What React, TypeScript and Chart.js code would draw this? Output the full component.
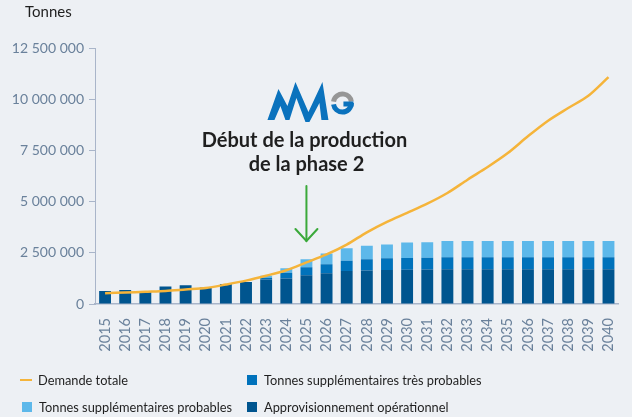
import React, { useEffect, useRef } from "react";
import { Chart, registerables } from "chart.js";

Chart.register(...registerables);

const categories = [
  "2015", "2016", "2017", "2018", "2019", "2020", "2021", "2022", "2023",
  "2024", "2025", "2026", "2027", "2028", "2029", "2030", "2031", "2032",
  "2033", "2034", "2035", "2036", "2037", "2038", "2039", "2040",
];

const approvisionnementOperationnel = [
  640000, 680000, 600000, 850000, 910000, 800000, 980000, 1070000, 1200000,
  1250000, 1400000, 1500000, 1610000, 1640000, 1660000, 1670000, 1690000,
  1700000, 1700000, 1700000, 1700000, 1700000, 1700000, 1700000, 1700000, 1700000,
];

const tonnesTresProbables = [
  0, 0, 0, 0, 0, 0, 0, 0, 80000, 280000, 390000, 440000, 500000, 550000,
  570000, 570000, 570000, 580000, 580000, 580000, 580000, 580000, 580000,
  580000, 580000, 580000,
];

const tonnesProbables = [
  0, 0, 0, 0, 0, 0, 0, 0, 100000, 210000, 390000, 530000, 610000, 660000,
  680000, 760000, 760000, 800000, 800000, 800000, 800000, 800000, 800000,
  800000, 800000, 800000,
];

const demandeTotale = [
  530000, 560000, 600000, 640000, 710000, 780000, 950000, 1140000, 1380000,
  1650000, 2030000, 2420000, 2900000, 3500000, 4010000, 4450000, 4900000,
  5420000, 6070000, 6690000, 7370000, 8190000, 8950000, 9570000, 10170000,
  11080000,
];

const yTicks = [0, 2500000, 5000000, 7500000, 10000000, 12500000];
const annotationCategory = "2025";
const annotationLines = ["Début de la production", "de la phase 2"];

const COLORS = {
  bg: "#edf0f4",
  dark: "#00558f",
  mid: "#0072bb",
  light: "#5db8ea",
  line: "#f5b43a",
  axis: "#a9b5c9",
  tick: "#6a819b",
  text: "#1f1f1f",
  green: "#3aa93a",
  logoBlue: "#0a72bd",
  logoGray: "#969696",
};

const fmt = (v: number) =>
  String(Math.round(v)).replace(/\B(?=(\d{3})+(?!\d))/g, " ");

const annotationPlugin = {
  id: "annotation",
  afterDatasetsDraw(chart: any) {
    const ctx = chart.ctx;
    const idx = categories.indexOf(annotationCategory);
    const cx = chart.scales.x.getPixelForValue(idx);
    ctx.save();
    // Logo
    const lx = cx;
    ctx.fillStyle = COLORS.logoBlue;
    ctx.beginPath();
    ctx.moveTo(lx - 39, 120);
    ctx.lineTo(lx - 28, 89);
    ctx.lineTo(lx - 19, 106);
    ctx.lineTo(lx - 11, 82);
    ctx.lineTo(lx + 2, 112);
    ctx.lineTo(lx + 16, 82);
    ctx.lineTo(lx + 22, 120);
    ctx.lineTo(lx + 15, 120);
    ctx.lineTo(lx + 13, 103);
    ctx.lineTo(lx + 3, 122);
    ctx.lineTo(lx - 1, 122);
    ctx.lineTo(lx - 10, 98);
    ctx.lineTo(lx - 17, 120);
    ctx.lineTo(lx - 21, 120);
    ctx.lineTo(lx - 26, 106);
    ctx.lineTo(lx - 32, 120);
    ctx.closePath();
    ctx.fill();
    // G
    const gx = lx + 36;
    const gy = 103;
    ctx.lineWidth = 5;
    ctx.strokeStyle = COLORS.logoGray;
    ctx.beginPath();
    ctx.arc(gx, gy, 9, Math.PI * 1.05, Math.PI * 1.95);
    ctx.stroke();
    ctx.strokeStyle = COLORS.logoBlue;
    ctx.beginPath();
    ctx.arc(gx, gy, 9, Math.PI * 0.0, Math.PI * 0.95);
    ctx.stroke();
    ctx.beginPath();
    ctx.moveTo(gx + 1, gy + 1);
    ctx.lineTo(gx + 11, gy + 1);
    ctx.stroke();

    // Text
    ctx.fillStyle = COLORS.text;
    ctx.font = "bold 20px Lato";
    ctx.textAlign = "center";
    ctx.textBaseline = "middle";
    ctx.fillText(annotationLines[0], cx - 2, 141);
    ctx.fillText(annotationLines[1], cx, 165);

    // Arrow
    ctx.strokeStyle = COLORS.green;
    ctx.lineWidth = 2;
    ctx.lineCap = "round";
    ctx.beginPath();
    ctx.moveTo(cx, 186);
    ctx.lineTo(cx, 241);
    ctx.stroke();
    ctx.beginPath();
    ctx.moveTo(cx - 11, 229);
    ctx.lineTo(cx, 241);
    ctx.lineTo(cx + 11, 229);
    ctx.stroke();
    ctx.restore();
  },
};

function LegendItem({ kind, color, label, left, top }: any) {
  return (
    <div
      style={{
        position: "absolute",
        left,
        top,
        display: "flex",
        alignItems: "center",
        height: 20,
        whiteSpace: "nowrap",
      }}
    >
      {kind === "line" ? (
        <span
          style={{
            display: "inline-block",
            width: 12,
            height: 2,
            background: color,
            marginRight: 6,
          }}
        />
      ) : (
        <span
          style={{
            display: "inline-block",
            width: 10,
            height: 10,
            background: color,
            marginRight: 7,
          }}
        />
      )}
      <span style={{ fontFamily: "Lato", fontSize: 12.8, color: COLORS.text }}>
        {label}
      </span>
    </div>
  );
}

export default function App() {
  const ref = useRef<HTMLCanvasElement>(null);

  useEffect(() => {
    if (!ref.current) return;
    const chart = new Chart(ref.current, {
      type: "bar",
      data: {
        labels: categories,
        datasets: [
          {
            type: "line",
            label: "Demande totale",
            data: demandeTotale,
            borderColor: COLORS.line,
            backgroundColor: COLORS.line,
            borderWidth: 2.5,
            pointRadius: 0,
            tension: 0.3,
            stack: "demande",
            order: 0,
          } as any,
          {
            label: "Approvisionnement opérationnel",
            data: approvisionnementOperationnel,
            backgroundColor: COLORS.dark,
            stack: "offre",
            order: 1,
          },
          {
            label: "Tonnes supplémentaires très probables",
            data: tonnesTresProbables,
            backgroundColor: COLORS.mid,
            stack: "offre",
            order: 1,
          },
          {
            label: "Tonnes supplémentaires probables",
            data: tonnesProbables,
            backgroundColor: COLORS.light,
            stack: "offre",
            order: 1,
          },
        ],
      },
      options: {
        responsive: false,
        animation: false,
        devicePixelRatio: 1,
        datasets: {
          bar: { categoryPercentage: 1, barPercentage: 0.59 },
        },
        layout: { padding: { top: 48, right: 6, left: 0, bottom: 0 } },
        plugins: {
          legend: { display: false },
          tooltip: { enabled: false },
          title: { display: false },
        },
        scales: {
          x: {
            stacked: true,
            grid: { display: false },
            border: { display: true, color: COLORS.axis, width: 1.5 },
            ticks: {
              color: COLORS.tick,
              font: { family: "Lato", size: 14.5 },
              minRotation: 90,
              maxRotation: 90,
              padding: 6,
              autoSkip: false,
            },
            afterFit: (s: any) => {
              s.height = 113;
            },
          },
          y: {
            stacked: true,
            min: 0,
            max: 12500000,
            grid: {
              drawOnChartArea: false,
              drawTicks: true,
              tickLength: 6,
              color: COLORS.axis,
            },
            border: { display: true, color: COLORS.axis, width: 1 },
            afterBuildTicks: (s: any) => {
              s.ticks = yTicks.map((v) => ({ value: v }));
            },
            ticks: {
              color: COLORS.tick,
              font: { family: "Lato", size: 14 },
              padding: 5,
              callback: (v: any) => fmt(Number(v)),
            },
            afterFit: (s: any) => {
              s.width = 95;
            },
          },
        },
      },
      plugins: [annotationPlugin],
    });
    return () => chart.destroy();
  }, []);

  return (
    <div
      style={{
        position: "fixed",
        left: 0,
        top: 0,
        width: 632,
        height: 417,
        background: COLORS.bg,
        overflow: "hidden",
      }}
    >
      <canvas
        ref={ref}
        width={632}
        height={417}
        style={{ position: "absolute", left: 0, top: 0, width: 632, height: 417 }}
      />
      <div
        style={{
          position: "absolute",
          left: 25,
          top: 2,
          fontFamily: "Lato",
          fontSize: 15,
          color: COLORS.text,
        }}
      >
        Tonnes
      </div>
      <LegendItem kind="line" color={COLORS.line} label="Demande totale" left={20} top={370} />
      <LegendItem
        kind="box"
        color={COLORS.mid}
        label="Tonnes supplémentaires très probables"
        left={247}
        top={370}
      />
      <LegendItem
        kind="box"
        color={COLORS.light}
        label="Tonnes supplémentaires probables"
        left={22}
        top={397}
      />
      <LegendItem
        kind="box"
        color={COLORS.dark}
        label="Approvisionnement opérationnel"
        left={247}
        top={397}
      />
    </div>
  );
}
